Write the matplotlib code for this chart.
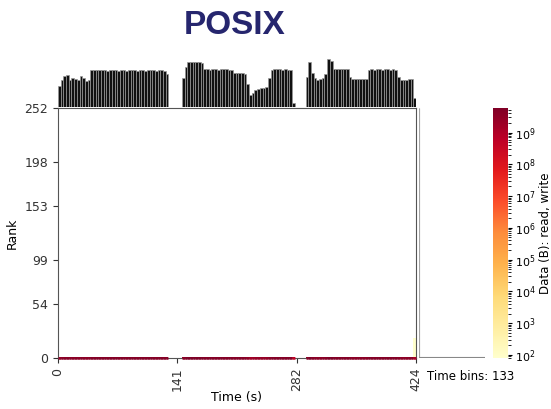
import matplotlib
matplotlib.use("Agg")
import matplotlib.pyplot as plt
import numpy as np
from matplotlib.colors import LogNorm

# Datos
n_rangos = 253
n_bins = 133
t_max = 424
ytick_vals = [0, 54, 99, 153, 198, 252]
xtick_labels = ["0", "141", "282", "424"]

# altura relativa de cada bin de tiempo (rango 0)
bins_g1 = [21, 27, 31, 32, 27, 29, 28, 27, 31, 29, 26, 27, 37,
           37, 37, 37, 37, 37, 36, 37, 37, 37, 36, 37, 37, 36, 37,
           37, 37, 36, 37, 37, 36, 37, 37, 37, 36, 37, 37, 36, 33]
hueco1 = [0, 0, 0, 0, 0]
bins_g2 = [29, 40, 45, 45, 45, 45, 45, 44,
           38, 38, 37, 38, 38, 37, 38, 38, 38, 37, 37,
           34, 34, 34, 34, 33,
           23, 12, 14, 17, 18, 19, 19, 20, 29, 37,
           38, 38, 38, 37, 38, 37, 37, 4]
hueco2 = [0, 0, 0, 0]
bins_g3 = [30, 45, 34, 29, 27, 28, 29, 33, 48, 46, 38,
           38, 38, 38, 38, 38,
           30, 28, 28, 28, 28, 28, 28,
           37, 38, 37, 38, 38, 37, 38, 38, 37, 38, 37,
           30, 27, 27, 27, 28, 28, 9]
escala_bytes = 1.23e8   # bytes por unidad
valor_bajo = 80         # celdas amarillas del ultimo bin
rangos_bajos = 19

rango0 = np.array(bins_g1 + hueco1 + bins_g2 + hueco2 + bins_g3, dtype=float) * escala_bytes

datos = np.zeros((n_rangos, n_bins))
datos[0] = rango0
datos[1:rangos_bajos + 1, -1] = valor_bajo

suma_tiempo = datos.sum(axis=0)
suma_rango = datos.sum(axis=1)

W, H = 551, 409
fig = plt.figure(figsize=(W / 100, H / 100), dpi=100)

def caja(x0, y0, x1, y1):
    return [x0 / W, (H - y1) / H, (x1 - x0) / W, (y1 - y0) / H]

ax = fig.add_axes(caja(58, 108, 416, 358))
ax_top = fig.add_axes(caja(58, 55, 416, 107))
ax_der = fig.add_axes(caja(419, 108, 485, 358))
ax_cb = fig.add_axes(caja(493, 108, 508, 358))

# Mapa de calor
norma = LogNorm(vmin=datos[datos > 0].min(), vmax=datos.max())
cmap = plt.get_cmap("YlOrRd").copy()
cmap.set_bad((1, 1, 1, 0))
im = ax.imshow(np.ma.masked_equal(datos, 0), origin="lower", aspect="auto",
               cmap=cmap, norm=norma, interpolation="nearest",
               extent=(0, n_bins, -0.5, n_rangos - 0.5))
# linea del rango 0, para que se vea por encima del eje
con_datos = np.arange(n_bins)[rango0 > 0]
ax.hlines(np.zeros(len(con_datos)) - 0.5, con_datos, con_datos + 1,
          colors=cmap(norma(rango0[con_datos])), linewidth=1.8, zorder=4,
          clip_on=False)
ax.set_xlim(0, n_bins)
ax.set_ylim(-0.5, n_rangos - 0.5)
ax.set_xticks(np.linspace(0, n_bins, 4))
ax.set_xticklabels(xtick_labels, rotation=90, fontsize=9)
ax.set_yticks(ytick_vals)
ax.set_yticklabels([str(v) for v in ytick_vals], fontsize=9)
ax.set_xlabel("Time (s)", fontsize=9, labelpad=0)
ax.set_ylabel("Rank", fontsize=9)
for s in ax.spines.values():
    s.set_color("#555555")
    s.set_linewidth(0.8)
ax.tick_params(colors="#333333", length=3.5, labelsize=9)

# Barras superiores
ax_top.bar(np.arange(n_bins) + 0.5, suma_tiempo, width=1, color="#111111",
           edgecolor="#999999", linewidth=0.5)
ax_top.set_xlim(0, n_bins)
ax_top.set_ylim(0, suma_tiempo.max() * 52 / 48)
ax_top.axis("off")

# Barras derecha
ax_der.barh(np.arange(n_rangos), suma_rango, height=1, color="#444444",
            edgecolor="#888888", linewidth=0.8)
ax_der.set_ylim(-0.5, n_rangos - 0.5)
ax_der.set_xlim(0, suma_rango.max())
ax_der.axis("off")

# Barra de color
cb = fig.colorbar(im, cax=ax_cb)
cb.outline.set_visible(False)
cb.ax.tick_params(labelsize=8, length=3, pad=2)
cb.set_label("Data (B): read, write", fontsize=8.5, labelpad=2)

fig.text(427 / W, 1 - 377 / H, "Time bins: %d" % n_bins, fontsize=8.5, va="center")
fig.text(235 / W, 1 - 26 / H, "POSIX", fontsize=24, fontweight="bold",
         family="Liberation Sans", color="#26266e", ha="center", va="center")

fig.savefig("out.png", dpi=100)
